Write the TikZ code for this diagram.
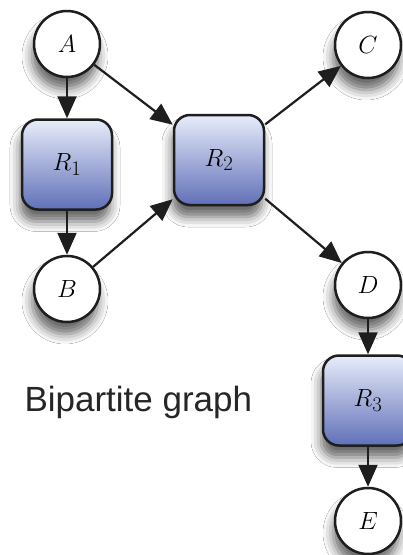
\documentclass[tikz,border=0pt]{standalone}
\usepackage{fontspec}
\newfontfamily\labelfont{Liberation Sans}
\usepackage{tikz}
\usetikzlibrary{arrows.meta, positioning, shadows.blur}
\definecolor{reactTop}{RGB}{232, 236, 250}
\definecolor{reactBot}{RGB}{96, 112, 184}
\definecolor{edgeGray}{RGB}{30, 30, 30}

\begin{document}
\begin{tikzpicture}[x=1pt, y=-1pt,
  node distance=40pt,
  species/.style={circle, draw=edgeGray, line width=2.5pt, fill=white,
                  minimum size=66pt, inner sep=0pt,
                  font=\fontsize{30}{30}\selectfont,
                  blur shadow={shadow xshift=-2pt, shadow yshift=-12pt,
                               shadow blur radius=10pt, shadow opacity=60}},
  reaction/.style={rectangle, rounded corners=16pt, draw=edgeGray,
                   line width=2.5pt, top color=reactTop, bottom color=reactBot,
                   minimum width=90pt, minimum height=90pt, inner sep=0pt,
                   font=\fontsize{30}{30}\selectfont,
                   blur shadow={shadow xshift=-2pt, shadow yshift=-12pt,
                                shadow blur radius=10pt, shadow opacity=60}},
  arrow/.style={-{Triangle[length=22pt, width=19pt]}, line width=2.2pt, edgeGray},
]
  \clip (0,0) rectangle (403,555);
  \fill[white] (0,0) rectangle (403,555);

  % left column
  \node[species] (A) at (67,44) {$A$};
  \node[reaction, below=of A] (R1) {$R_1$};
  \node[species, below=44pt of R1] (B) {$B$};

  % middle
  \node[reaction] (R2) at (219,160) {$R_2$};

  % right column
  \node[species] (C) at (368,45) {$C$};
  \node[species] (D) at (368,285) {$D$};
  \node[reaction, below=35pt of D] (R3) {$R_3$};
  \node[species, below=of R3] (E) {$E$};

  \node[anchor=west, font=\labelfont\fontsize{35}{35}\selectfont,
        text=black!85] (title) at (21,402) {Bipartite graph};

  \draw[arrow] (A) -- (R1);
  \draw[arrow] (R1) -- (B);
  \draw[arrow] (A) -- (R2);
  \draw[arrow] (B) -- (R2);
  \draw[arrow] (R2) -- (C);
  \draw[arrow] (R2) -- (D);
  \draw[arrow] (D) -- (R3);
  \draw[arrow] (R3) -- (E);
\end{tikzpicture}
\end{document}
